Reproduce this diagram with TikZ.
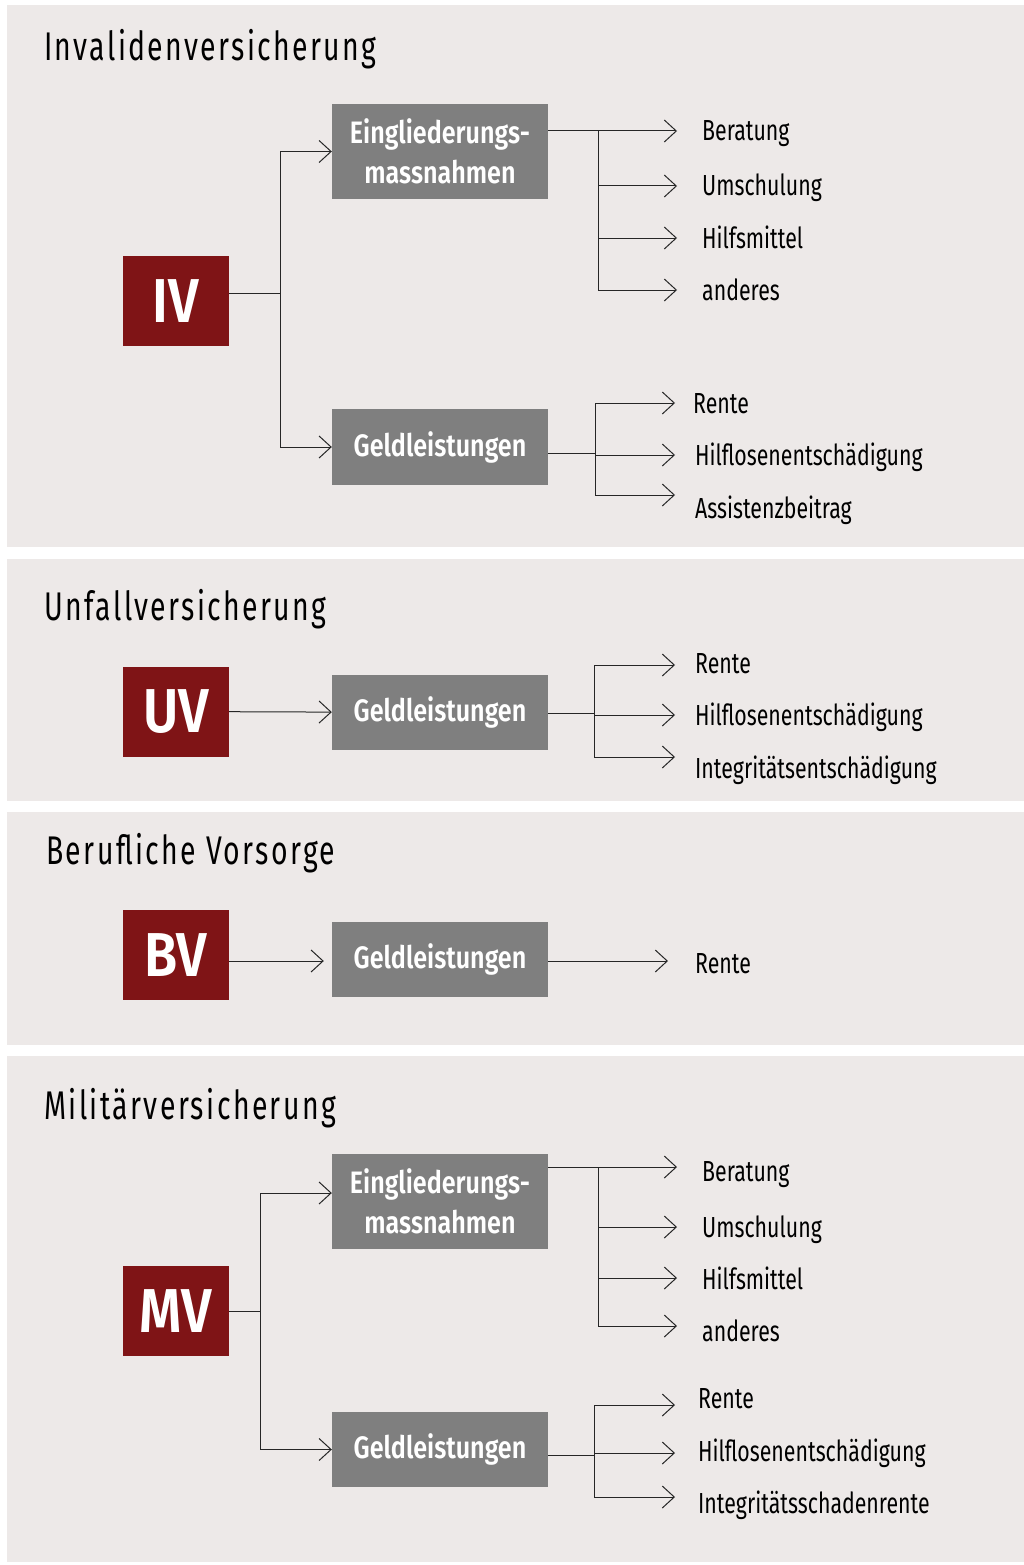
\documentclass[tikz,border=0pt]{standalone}
\usepackage{fontspec}
\setmainfont{Fira Sans}
\newfontfamily\headfont[FakeStretch=0.71,LetterSpace=6]{Fira Sans}
\newfontfamily\boxfont[FakeStretch=0.81]{Fira Sans SemiBold}
\newfontfamily\itemfont[FakeStretch=0.735]{Fira Sans}
\newfontfamily\abbrfont[FakeStretch=0.87]{Fira Sans SemiBold}
\usetikzlibrary{arrows.meta}
\definecolor{panelbg}{HTML}{EDE9E8}
\definecolor{darkred}{HTML}{7F1416}
\definecolor{boxgray}{HTML}{7F7F7F}
\tikzset{
  panel/.style={fill=panelbg, draw=none},
  heading/.style={anchor=base west, inner sep=0pt, font=\headfont\fontsize{40}{44}\selectfont, text=black},
  abbr/.style={fill=darkred, minimum width=106pt, minimum height=90pt, inner sep=0pt, text=white, font=\abbrfont\fontsize{62}{66}\selectfont},
  catbox/.style={fill=boxgray, minimum width=216pt, inner sep=0pt, text=white, align=center, font=\boxfont\fontsize{31}{40}\selectfont},
  item/.style={anchor=west, inner sep=0pt, text height=20pt, text depth=0pt, font=\itemfont\fontsize{29}{32}\selectfont, text=black},
  conn/.style={draw=black!85, line width=1pt},
  arr/.style={conn, -{Straight Barb[length=12pt,width=22pt,line width=1pt]}},
}
\begin{document}
\begin{tikzpicture}[x=1pt,y=-1pt]
\useasboundingbox (0,0) rectangle (1024,1565);
\fill[white] (0,0) rectangle (1024,1565);
% panels
\fill[panel] (7,5) rectangle (1024,547);
\fill[panel] (7,559) rectangle (1024,801);
\fill[panel] (7,812) rectangle (1024,1045);
\fill[panel] (7,1056) rectangle (1024,1562);

% ================= IV =================
\node[heading] (h1) at (44,61) {Invalidenversicherung};
\node[abbr] (iv) at (176,301) {IV};
\node[catbox, minimum height=95pt] (ivE) at (440,151.5) {Eingliederungs-\\massnahmen};
\node[catbox, minimum height=76pt] (ivG) at (440,447) {Geldleistungen};
\node[item] (ivE1) at (702,131) {Beratung};
\node[item] (ivE2) at (702,186) {Umschulung};
\node[item] (ivE3) at (702,238) {Hilfsmittel};
\node[item] (ivE4) at (702,290) {anderes};
\node[item] (ivG1) at (693,403) {Rente};
\node[item] (ivG2) at (695,455) {Hilflosenentschädigung};
\node[item] (ivG3) at (695,508) {Assistenzbeitrag};
\coordinate (ivJ) at (280,293);
\coordinate (ivEJ) at (598,131);
\coordinate (ivGJ) at (595,453);
\draw[conn] (iv.east |- ivJ) -- (ivJ);
\draw[arr] (ivJ) |- (ivE.west);
\draw[arr] (ivJ) |- (ivG.west);
\draw[arr] (ivE.east |- ivE1.west) -- ([xshift=-25pt]ivE1.west);
\draw[conn] (ivEJ) -- (ivEJ |- ivE4.west);
\foreach \n in {ivE2,ivE3,ivE4}{\draw[arr] (ivEJ |- \n.west) -- ([xshift=-25pt]\n.west);}
\draw[conn] (ivG.east |- ivGJ) -- (ivGJ);
\draw[conn] (ivGJ |- ivG1.west) -- (ivGJ |- 0,495);
\draw[arr] (ivGJ |- ivG1.west) -- ([xshift=-18pt]ivG1.west);
\draw[arr] (ivGJ |- ivG2.west) -- ([xshift=-20pt]ivG2.west);
\draw[arr] (ivGJ |- 0,495) -- ([xshift=-20pt]ivG3.west |- 0,495);

% ================= UV =================
\node[heading] (h2) at (44,620) {Unfallversicherung};
\node[abbr] (uv) at (176,711.5) {UV};
\node[catbox, minimum height=75pt] (uvG) at (440,712.5) {Geldleistungen};
\node[item] (uvG1) at (695,663) {Rente};
\node[item] (uvG2) at (695,715) {Hilflosenentschädigung};
\node[item] (uvG3) at (695,768) {Integritätsentschädigung};
\coordinate (uvGJ) at (594,713);
\draw[arr] (uv) -- (uvG);
\draw[conn] (uvG.east |- uvGJ) -- (uvGJ);
\draw[conn] (uvGJ |- 0,665) -- (uvGJ |- 0,757);
\draw[arr] (uvGJ |- 0,665) -- ([xshift=-20pt]uvG1.west |- 0,665);
\draw[arr] (uvGJ |- uvG2.west) -- ([xshift=-20pt]uvG2.west);
\draw[arr] (uvGJ |- 0,757) -- ([xshift=-20pt]uvG3.west |- 0,757);

% ================= BV =================
\node[heading] (h3) at (46,864) {Berufliche Vorsorge};
\node[abbr] (bv) at (176,955) {BV};
\node[catbox, minimum height=75pt] (bvG) at (440,959.5) {Geldleistungen};
\node[item] (bvG1) at (695,963) {Rente};
\draw[arr, shorten >=8pt] (bv.east |- 0,961) -- (bvG.west |- 0,961);
\draw[arr] (bvG.east |- 0,961) -- ([xshift=-27pt]bvG1.west |- 0,961);

% ================= MV =================
\node[heading] (h4) at (44,1119) {Militärversicherung};
\node[abbr] (mv) at (176,1311) {MV};
\node[catbox, minimum height=95pt] (mvE) at (440,1201.5) {Eingliederungs-\\massnahmen};
\node[catbox, minimum height=75pt] (mvG) at (440,1449.5) {Geldleistungen};
\node[item] (mvE1) at (702,1171) {Beratung};
\node[item] (mvE2) at (702,1227) {Umschulung};
\node[item] (mvE3) at (702,1279) {Hilfsmittel};
\node[item] (mvE4) at (702,1331) {anderes};
\node[item] (mvG1) at (698,1398) {Rente};
\node[item] (mvG2) at (698,1451) {Hilflosenentschädigung};
\node[item] (mvG3) at (698,1503) {Integritätsschadenrente};
\coordinate (mvJ) at (260,1311);
\coordinate (mvEJ) at (598,1167);
\coordinate (mvGJ) at (594,1455);
\draw[conn] (mv.east |- mvJ) -- (mvJ);
\draw[arr] (mvJ) |- (mvE.west |- 0,1193);
\draw[arr] (mvJ) |- (mvG.west);
\draw[arr] (mvE.east |- mvEJ) -- ([xshift=-25pt]mvE1.west |- mvEJ);
\draw[conn] (mvEJ) -- (mvEJ |- 0,1326);
\draw[arr] (mvEJ |- 0,1227) -- ([xshift=-25pt]mvE2.west |- 0,1227);
\draw[arr] (mvEJ |- 0,1278) -- ([xshift=-25pt]mvE3.west |- 0,1278);
\draw[arr] (mvEJ |- 0,1326) -- ([xshift=-25pt]mvE4.west |- 0,1326);
\draw[conn] (mvG.east |- mvGJ) -- (mvGJ);
\draw[conn] (mvGJ |- 0,1405) -- (mvGJ |- 0,1497);
\draw[arr] (mvGJ |- 0,1405) -- ([xshift=-23pt]mvG1.west |- 0,1405);
\draw[arr] (mvGJ |- 0,1453) -- ([xshift=-23pt]mvG2.west |- 0,1453);
\draw[arr] (mvGJ |- 0,1497) -- ([xshift=-23pt]mvG3.west |- 0,1497);
\end{tikzpicture}
\end{document}
